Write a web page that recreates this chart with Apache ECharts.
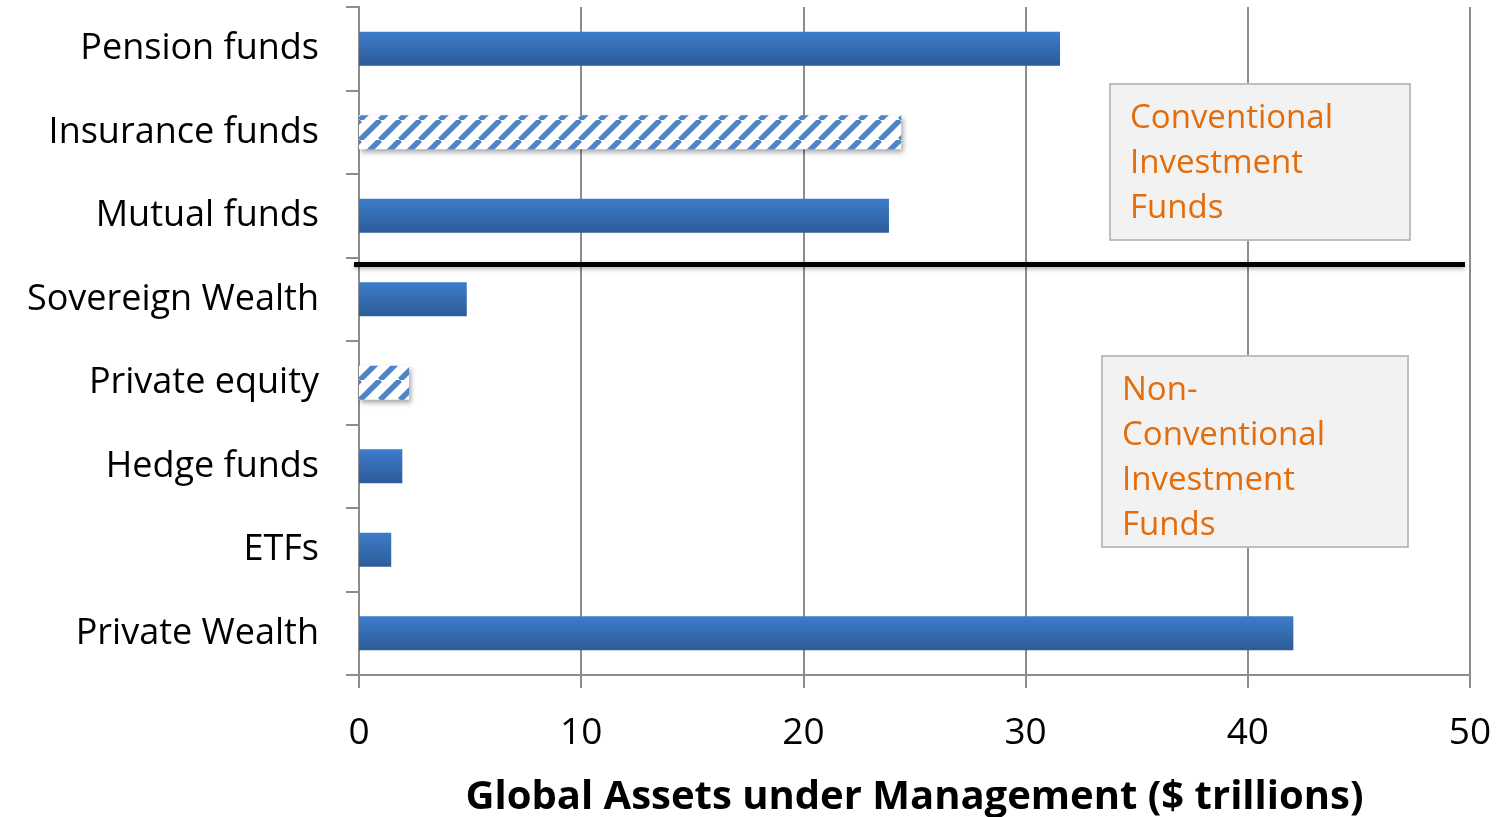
<!DOCTYPE html>
<html>
<head>
<meta charset="utf-8">
<script src="https://cdn.jsdelivr.net/npm/echarts@6/dist/echarts.min.js"></script>
<style>
  html, body { margin: 0; padding: 0; background: #fff; }
  #chart { width: 1504px; height: 817px; }
</style>
</head>
<body>
<div id="chart"></div>
<script>
const categories = ['Pension funds', 'Insurance funds', 'Mutual funds', 'Sovereign Wealth',
  'Private equity', 'Hedge funds', 'ETFs', 'Private Wealth'];
const assets = [31.55, 24.4, 23.85, 4.85, 2.25, 1.95, 1.45, 42.05];
const hatchedCats = ['Insurance funds', 'Private equity'];
const xTicks = [0, 10, 20, 30, 40, 50];
const boxConventional = ['Conventional', 'Investment', 'Funds'];
const boxNonConventional = ['Non-', 'Conventional', 'Investment', 'Funds'];

const FONT = 'Open Sans';

// diagonal stripe pattern for the hatched bars
function stripes() {
  const c = document.createElement('canvas');
  c.width = 20; c.height = 20;
  const g = c.getContext('2d');
  g.fillStyle = '#fff';
  g.fillRect(0, 0, 20, 20);
  g.strokeStyle = '#4f85c4';
  g.lineWidth = 5.5;
  g.beginPath();
  for (let k = -20; k <= 40; k += 20) {
    g.moveTo(k - 20, 20);
    g.lineTo(k, 0);
  }
  g.stroke();
  return c;
}

const solidFill = new echarts.graphic.LinearGradient(0, 0, 0, 1, [
  { offset: 0, color: '#3d7ccb' },
  { offset: 1, color: '#2c5b98' }
]);

const barData = assets.map((v, i) => {
  const item = { value: v };
  if (hatchedCats.includes(categories[i])) {
    item.itemStyle = { color: { image: stripes(), repeat: 'repeat' } };
  }
  return item;
});

const chart = echarts.init(document.getElementById('chart'));

chart.setOption({
  animation: false,
  grid: { left: 359, right: 34, top: 7, bottom: 142, outerBoundsMode: 'none', containLabel: false },
  xAxis: {
    type: 'value',
    min: 0, max: 50, interval: 10,
    name: 'Global Assets under Management ($ trillions)',
    nameLocation: 'middle',
    nameGap: 103,
    nameTextStyle: { fontFamily: FONT, fontSize: 40, fontWeight: 'bold', color: '#000' },
    axisLine: { show: true, lineStyle: { color: '#8c8c8c', width: 2 } },
    axisTick: { show: true, length: 13, lineStyle: { color: '#8c8c8c', width: 2 } },
    axisLabel: { fontFamily: FONT, fontSize: 37, color: '#000', margin: 40,
      formatter: v => xTicks.includes(v) ? String(v) : '' },
    splitLine: { show: true, lineStyle: { color: '#8c8c8c', width: 2 } }
  },
  yAxis: {
    type: 'category',
    data: categories,
    inverse: true,
    axisLine: { show: true, lineStyle: { color: '#8c8c8c', width: 2 } },
    axisTick: { show: true, length: 13, lineStyle: { color: '#8c8c8c', width: 2 } },
    axisLabel: { fontFamily: FONT, fontSize: 36, color: '#000', margin: 40, padding: [4, 0, 0, 0] },
    splitLine: { show: false }
  },
  series: [{
    type: 'bar',
    data: barData,
    barWidth: 34,
    itemStyle: {
      color: solidFill,
      shadowColor: 'rgba(0,0,0,0.35)',
      shadowBlur: 5,
      shadowOffsetX: 2,
      shadowOffsetY: 3
    }
  }]
});

// separator line between conventional and non-conventional groups
const yTop = chart.convertToPixel({ yAxisIndex: 0 }, 'Mutual funds');
const yBot = chart.convertToPixel({ yAxisIndex: 0 }, 'Sovereign Wealth');
const ySep = (yTop + yBot) / 2 + 7;
const x0 = chart.convertToPixel({ xAxisIndex: 0 }, 0);
const x50 = chart.convertToPixel({ xAxisIndex: 0 }, 50);

function box(left, top, w, h, lines) {
  return {
    type: 'group', left: left, top: top,
    children: [
      { type: 'rect', shape: { x: 0, y: 0, width: w, height: h },
        style: { fill: '#f2f2f2', stroke: '#bfbfbf', lineWidth: 2 } },
      { type: 'text', x: 20, y: 12,
        style: { text: lines.join('\n'), fill: '#e46c0a', font: '33px "' + FONT + '"', lineHeight: 45 } }
    ]
  };
}

chart.setOption({
  graphic: [
    { type: 'line', shape: { x1: x0 - 5, y1: ySep, x2: x50 - 5, y2: ySep },
      style: { stroke: '#000', lineWidth: 5, shadowColor: 'rgba(0,0,0,0.3)', shadowBlur: 4, shadowOffsetY: 2 }, z: 10 },
    box(1109, 83, 300, 156, boxConventional),
    box(1101, 355, 306, 191, boxNonConventional)
  ]
});
</script>
</body>
</html>
